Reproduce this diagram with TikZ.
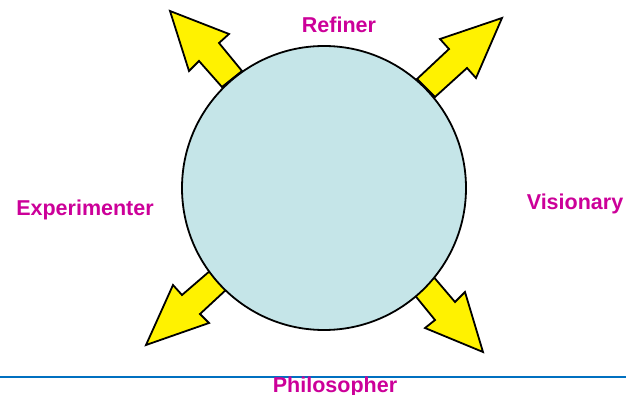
\documentclass[tikz,border=0pt]{standalone}
\usepackage{fontspec}
\setmainfont{Liberation Sans}

\definecolor{rolepink}{RGB}{204,0,153}
\definecolor{corecyan}{RGB}{197,229,232}
\definecolor{ruleblue}{RGB}{0,112,192}

\tikzset{
  bolt/.style={draw=black, line width=1.8pt, fill=yellow, line join=miter},
  role/.style={font=\fontsize{21.5}{25}\selectfont\bfseries, text=rolepink, inner sep=0pt}
}

\begin{document}
\begin{tikzpicture}[x=1pt, y=-1pt]
  \useasboundingbox (0,0) rectangle (626,395);
  % arrows behind the circle
  \draw[bolt] (222,87) -- (199,61) -- (189,71) -- (170,11) -- (229,34) -- (219,43) -- (242,71) -- cycle;
  \draw[bolt] (417,79) -- (449,49) -- (440,39) -- (502,18) -- (476,78) -- (467,68) -- (435,97) -- cycle;
  \draw[bolt] (211,270) -- (182,295) -- (173,285) -- (146,345) -- (209,323) -- (200,314) -- (228,288) -- cycle;
  \draw[bolt] (432,275) -- (455,302) -- (465,292) -- (483,352) -- (425,328) -- (435,320) -- (413,293) -- cycle;
  % circle
  \draw[line width=1.8pt, fill=corecyan] (324,188) circle (142);
  % bottom rule
  \draw[ruleblue, line width=2.2pt] (0,377) -- (626,377);
  % labels
  \node[role] (refiner) at (339,25) {Refiner};
  \node[role] (visionary) at (575,204) {Visionary};
  \node[role] (experimenter) at (85,210) {Experimenter};
  \node[role] (philosopher) at (335,387) {Philosopher};
\end{tikzpicture}
\end{document}
